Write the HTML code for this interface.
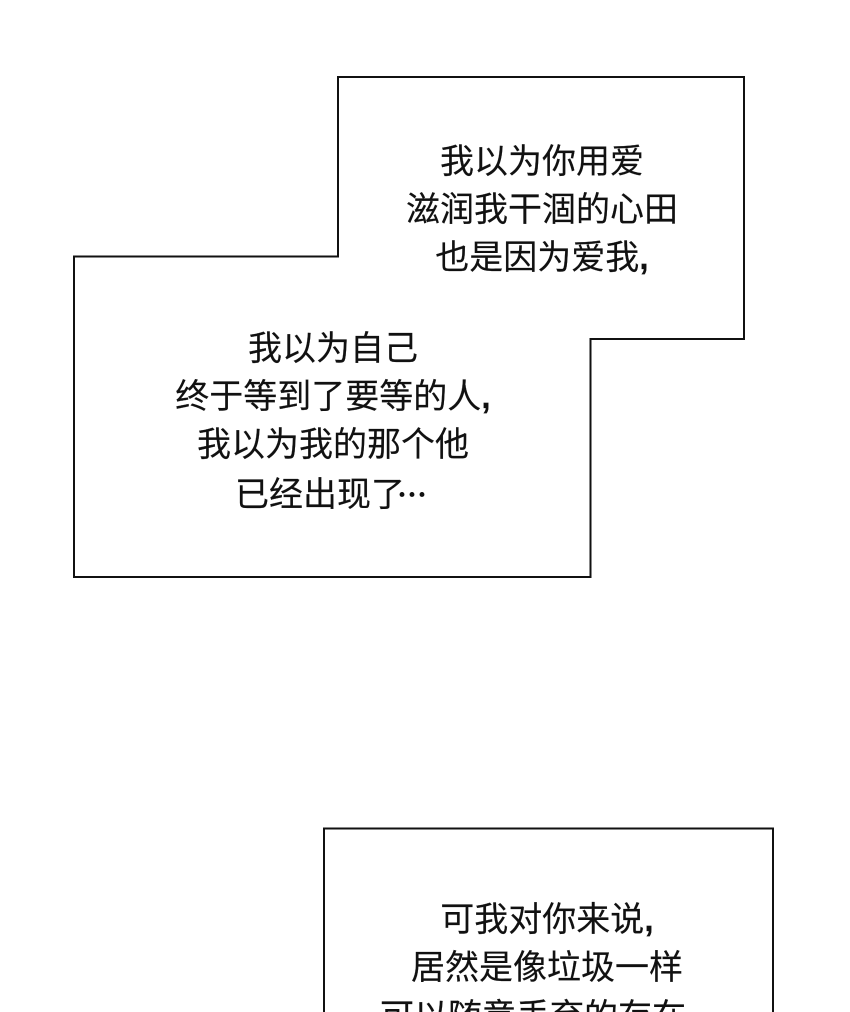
<!DOCTYPE html>
<html lang="zh-CN">
<head>
<meta charset="utf-8">
<style>
html,body{margin:0;padding:0;background:#fff;width:850px;height:1012px;overflow:hidden;}
#c{position:absolute;left:0;top:0;width:850px;height:1012px;overflow:hidden;background:#fff;}
svg{position:absolute;left:0;top:0;}
.t{position:absolute;white-space:nowrap;text-align:center;font-family:"Liberation Sans","Noto Sans CJK SC",sans-serif;font-size:34px;line-height:40px;color:#111;transform:translateX(-50%);-webkit-text-stroke:0.15px #111;}
.c{font-weight:700;}
.e{display:inline-block;width:30px;text-align:left;font-family:"Noto Sans CJK TC",sans-serif;font-size:30px;line-height:40px;-webkit-text-stroke:0;font-weight:700;margin-left:-8px;}
</style>
</head>
<body>
<div id="c">
<svg width="850" height="1012" viewBox="0 0 850 1012">
<path d="M338 77H744V339H590.5V577H74V256.5H338Z" fill="#fff" stroke="#111" stroke-width="2"/>
<path d="M324 1014V828.5H773V1014" fill="#fff" stroke="#111" stroke-width="2"/>
</svg>
<div class="t" style="left:542px;top:142px">我以为你用爱</div>
<div class="t" style="left:542px;top:190px">滋润我干涸的心田</div>
<div class="t" style="left:542px;top:238px">也是因为爱我<span class="c">,</span></div>
<div class="t" style="left:333px;top:329px">我以为自己</div>
<div class="t" style="left:333px;top:377px">终于等到了要等的人<span class="c">,</span></div>
<div class="t" style="left:333px;top:425px">我以为我的那个他</div>
<div class="t" style="left:331px;top:473px">已经出现了<span class="e">…</span></div>
<div class="t" style="left:547px;top:900px">可我对你来说<span class="c">,</span></div>
<div class="t" style="left:547px;top:948px">居然是像垃圾一样</div>
<div class="t" style="left:544px;top:995px">可以随意丢弃的存在<span class="e">…</span></div>
</div>
</body>
</html>
